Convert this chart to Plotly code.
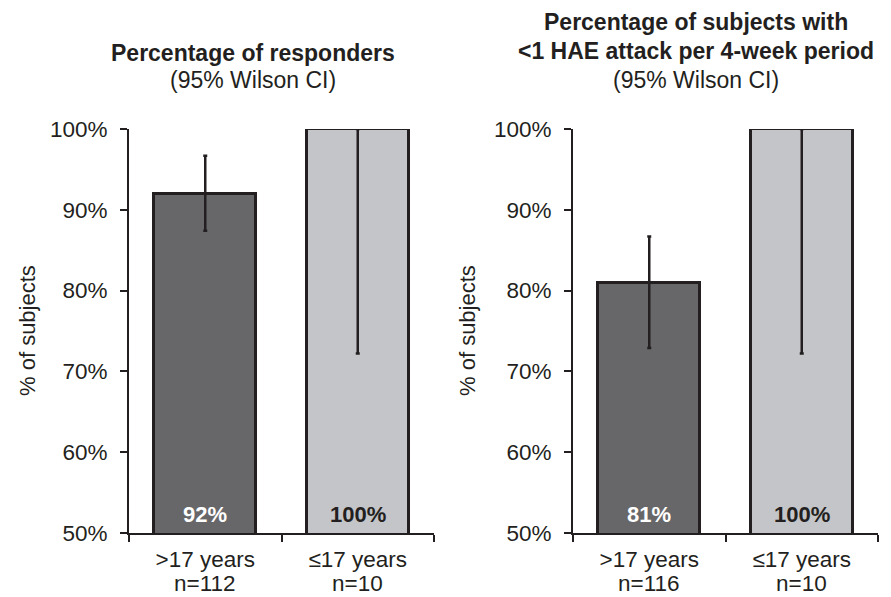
import plotly.graph_objects as go

# ---- data ----
categories = [">17 years", "≤17 years"]

n_left = [112, 10]
values_left = [92, 100]
ci_low_left = [87.4, 72.2]
ci_high_left = [96.7, 100]

n_right = [116, 10]
values_right = [81, 100]
ci_low_right = [72.9, 72.2]
ci_high_right = [86.7, 100]

bar_colors = ["#676769", "#c4c5c9"]
label_colors = ["#ffffff", "#231f20"]

title_left = ["<b>Percentage of responders</b>", "(95% Wilson CI)"]
title_right = ["<b>Percentage of subjects with</b>", "<b><1 HAE attack per 4-week period</b>", "(95% Wilson CI)"]
y_title = "% of subjects"
y_ticks = [50, 60, 70, 80, 90, 100]
y_ticktext = ["50%", "60%", "70%", "80%", "90%", "100%"]

INK = "#231f20"
FONT = "Liberation Sans, Arial, sans-serif"
W, H = 891, 597
OFF = 8  # page offset of the plot div


def px(x):
    return (x - OFF) / W


def py(y):
    return (H - (y - OFF)) / H


fig = go.Figure()


def add_panel(cats, ns, vals, lo, hi, xa, ya):
    fig.add_trace(go.Bar(
        x=cats, y=vals, xaxis=xa, yaxis=ya, width=0.67,
        marker=dict(color=bar_colors, line=dict(color=INK, width=3)),
        error_y=dict(type="data", symmetric=False,
                     array=[h - v for h, v in zip(hi, vals)],
                     arrayminus=[v - l for v, l in zip(vals, lo)],
                     color=INK, thickness=2.5, width=2),
        showlegend=False, hoverinfo="skip",
    ))
    for c, v, col, n in zip(cats, vals, label_colors, ns):
        fig.add_annotation(x=c, y=50, xref=xa, yref=ya, text=f"<b>{v}%</b>",
                           showarrow=False, yanchor="bottom", yshift=4,
                           font=dict(family=FONT, size=22, color=col))
        fig.add_annotation(x=c, y=50, xref=xa, yref=ya, text=f"n={n}",
                           showarrow=False, yanchor="middle", yshift=-50,
                           font=dict(family=FONT, size=22.5, color=INK))


add_panel(categories, n_left, values_left, ci_low_left, ci_high_left, "x", "y")
add_panel(categories, n_right, values_right, ci_low_right, ci_high_right, "x2", "y2")

ydom = [py(533), py(129)]
axis_common = dict(showline=True, linecolor=INK, linewidth=2, ticks="outside",
                   tickcolor=INK, tickwidth=2, ticklen=7, showgrid=False,
                   zeroline=False, automargin=False,
                   tickfont=dict(family=FONT, size=22.5, color=INK))

fig.update_layout(
    template="none",
    width=W, height=H, plot_bgcolor="white", paper_bgcolor="white",
    margin=dict(l=0, r=0, t=0, b=0, autoexpand=False), bargap=0,
    xaxis=dict(domain=[px(129), px(434)], range=[-0.5, 1.5], tickson="boundaries",
               anchor="y", ticklabelstandoff=5, **axis_common),
    xaxis2=dict(domain=[px(573), px(878)], range=[-0.5, 1.5], tickson="boundaries",
                anchor="y2", ticklabelstandoff=5, **axis_common),
    yaxis=dict(domain=ydom, range=[50, 100], tickvals=y_ticks, ticktext=y_ticktext,
               anchor="x", ticklabelstandoff=8, **axis_common),
    yaxis2=dict(domain=ydom, range=[50, 100], tickvals=y_ticks, ticktext=y_ticktext,
                anchor="x2", ticklabelstandoff=8, **axis_common),
)


def title_lines(lines, xc, ycs):
    for t, yc in zip(lines, ycs):
        fig.add_annotation(x=px(xc), y=py(yc), xref="paper", yref="paper",
                           text=t, showarrow=False, xanchor="center", yanchor="middle",
                           font=dict(family=FONT, size=23, color=INK))


title_lines(title_left, 253, [53, 80])
title_lines(title_right, 696, [22, 51, 80])

for xc in [27, 467]:
    fig.add_annotation(x=px(xc), y=py(331), xref="paper", yref="paper",
                       text=y_title, textangle=-90, showarrow=False,
                       xanchor="center", yanchor="middle",
                       font=dict(family=FONT, size=22, color=INK))

fig.write_html("out.html")
